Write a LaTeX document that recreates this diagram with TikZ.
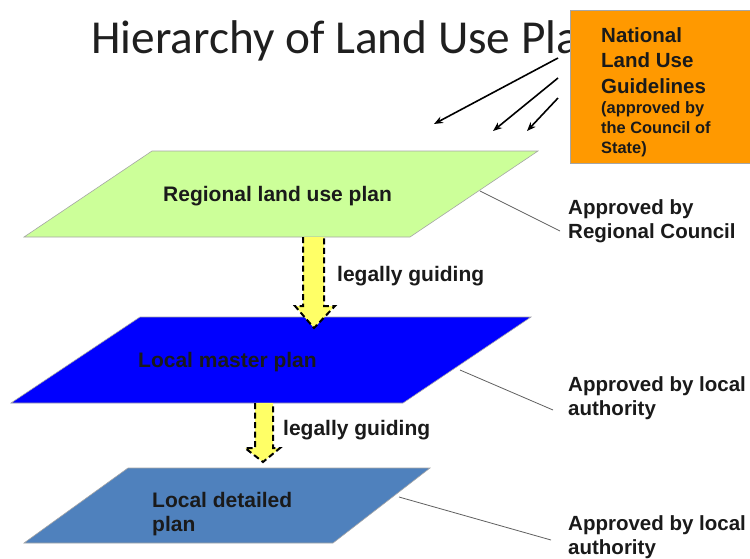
\documentclass[tikz,border=0pt]{standalone}
\usepackage{fontspec}
\setmainfont{Liberation Sans}
\newfontfamily\titlefont{Carlito}
\usetikzlibrary{arrows.meta}
\definecolor{planegreen}{HTML}{CCFF99}
\definecolor{planeblue}{HTML}{0000FF}
\definecolor{planesteel}{HTML}{4F81BD}
\definecolor{natorange}{HTML}{FF9900}
\definecolor{guideyellow}{HTML}{FFFF66}
\definecolor{txt}{HTML}{1A1A1A}
\begin{document}
\begin{tikzpicture}[x=1pt,y=-1pt,
  lbl/.style={font=\fontsize{20.5}{24}\selectfont\bfseries, anchor=base west, inner sep=0pt, text=txt},
  biglbl/.style={font=\fontsize{21}{24}\selectfont\bfseries, anchor=base west, inner sep=0pt, text=txt},
  small/.style={font=\fontsize{16.4}{20}\selectfont\bfseries, anchor=base west, inner sep=0pt, text=txt},
  plane/.style={draw=gray!70, line width=0.6pt},
  guide/.style={draw=black, dash pattern=on 6pt off 3.5pt, line width=2pt, fill=guideyellow, line join=miter},
  natarrow/.style={draw=black, line width=1.6pt, -{Stealth[length=9pt,width=7pt]}},
  leader/.style={draw=gray!75!black, line width=0.8pt}
]
\useasboundingbox (0,0) rectangle (750,558);
\fill[white] (0,0) rectangle (750,558);

% title
\node[anchor=base west, inner sep=0pt, font=\titlefont\fontsize{47.3}{50}\selectfont, text=black!88] (title) at (91,53) {Hierarchy of Land Use Plans};

% national guidelines box
\node[draw=gray!70, line width=0.6pt, fill=natorange, minimum width=182pt, minimum height=153pt, anchor=north west, inner sep=0pt] (nat) at (570,10) {};
\node[lbl] (nat1) at (601,42) {National};
\node[lbl] (nat2) at (601,67.5) {Land Use};
\node[lbl] (nat3) at (601,93) {Guidelines};
\node[small] (nat4) at (601,113) {(approved by};
\node[small] (nat5) at (601,133) {the Council of};
\node[small] (nat6) at (601,153) {State)};

\coordinate (a1s) at (558,58);  \coordinate (a1e) at (434,124);
\coordinate (a2s) at (558,78);  \coordinate (a2e) at (493,131);
\coordinate (a3s) at (558,98);  \coordinate (a3e) at (527,131);
\draw[natarrow] (a1s) -- (a1e);
\draw[natarrow] (a2s) -- (a2e);
\draw[natarrow] (a3s) -- (a3e);

% planes
\path[plane, fill=planegreen] (152,151) -- (538,151) -- (410,237) -- (24,237) -- cycle;
\path[plane, fill=planeblue] (140,317) -- (531,317) -- (403,403) -- (11,403) -- cycle;
\path[plane, fill=planesteel] (128,468) -- (430,468) -- (333,543) -- (24,543) -- cycle;

\node[biglbl] (reg) at (163,201) {Regional land use plan};
\node[biglbl] (mas) at (138,367) {Local master plan};
\node[biglbl] (det1) at (152,507) {Local detailed};
\node[biglbl] (det2) at (152,531) {plan};

% guiding arrows
\path[guide] (303,237) -- (303,306) -- (295,306) -- (314,328) -- (335,306) -- (324,306) -- (324,237);
\node[biglbl] (lg1) at (337,281) {legally guiding};
\path[guide] (255,403) -- (255,448) -- (245,448) -- (263,462) -- (280,448) -- (273,448) -- (273,403);
\node[biglbl] (lg2) at (283,435) {legally guiding};

% approvals
\coordinate (l1s) at (480,191); \coordinate (l1e) at (560,231);
\coordinate (l2s) at (460,370); \coordinate (l2e) at (553,410);
\coordinate (l3s) at (399,497); \coordinate (l3e) at (551,540);
\draw[leader] (l1s) -- (l1e);
\draw[leader] (l2s) -- (l2e);
\draw[leader] (l3s) -- (l3e);

\node[lbl] (ap1a) at (568,214) {Approved by};
\node[lbl] (ap1b) at (568,238) {Regional Council};
\node[lbl] (ap2a) at (568,391) {Approved by local};
\node[lbl] (ap2b) at (568,415) {authority};
\node[lbl] (ap3a) at (568,530) {Approved by local};
\node[lbl] (ap3b) at (568,554) {authority};
\end{tikzpicture}
\end{document}
